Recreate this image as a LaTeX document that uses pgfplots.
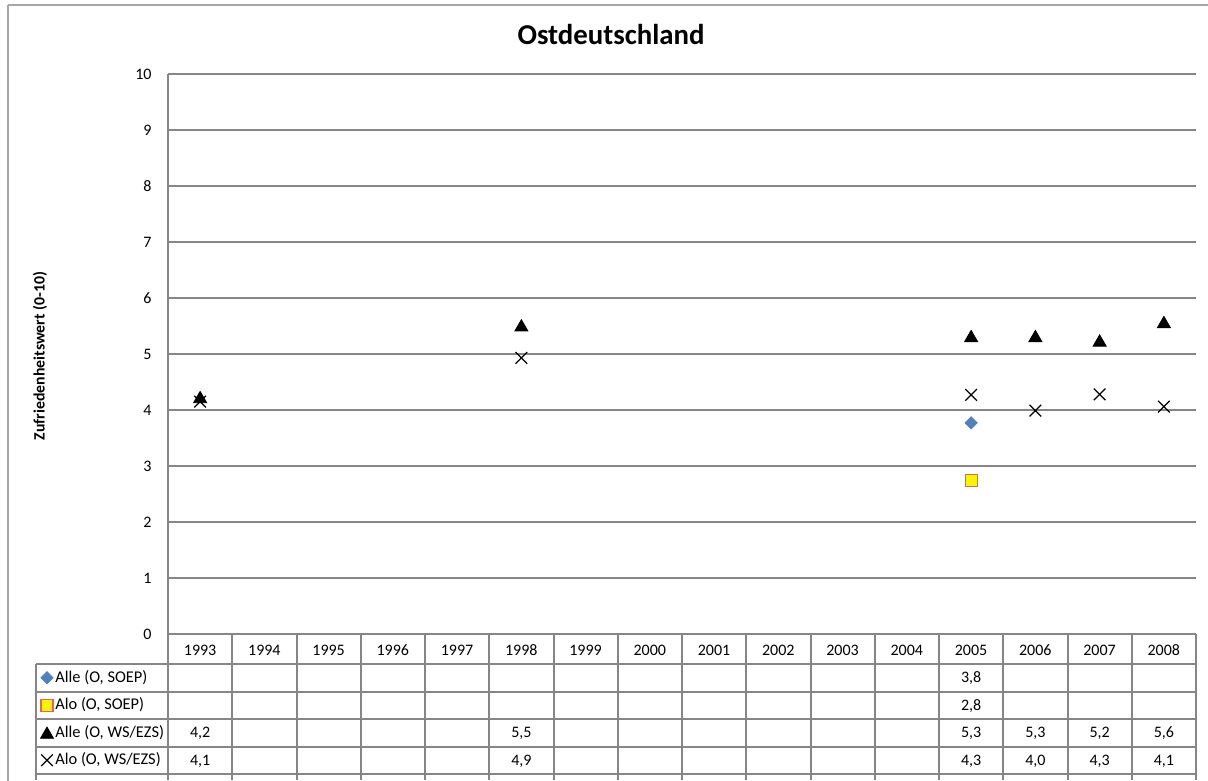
\documentclass[border=0pt]{standalone}
\usepackage{fontspec}
\setmainfont{Carlito}
\usepackage{pgfplots}
\pgfplotsset{compat=1.18}

\definecolor{excelblue}{HTML}{4F81BD}
\definecolor{gridgray}{HTML}{868686}
\definecolor{framegray}{HTML}{A6A6A6}
\definecolor{sqborder}{HTML}{D9695F}

% 1 px of the reference = 0.5pt
\newcommand{\tabfont}{\fontsize{8pt}{9pt}\selectfont}
\pgfplotsset{mklegend/.style={legend image code/.code={%
  \draw[##1] plot coordinates {(3.3pt,0pt)}; \path (0,0) (7.3pt,0);}}}

\begin{document}
\begin{tikzpicture}[tabval/.style={anchor=base, font=\tabfont, inner sep=0pt}]
\begin{scope}[x=0.5pt,y=0.5pt]
\useasboundingbox (0,0) rectangle (1208,775);
% chart frame
\draw[framegray, line width=1pt] (8,770) -- (1240,770) (8,770) -- (8,-20);
% title and y label
\node[anchor=base, font=\fontsize{14.4pt}{16pt}\selectfont\bfseries] at (611,730) {Ostdeutschland};
\node[rotate=90, font=\fontsize{7.9pt}{9pt}\selectfont\bfseries] at (40,419) {Zufriedenheitswert (0-10)};
\end{scope}

\begin{axis}[
  at={(84pt,70.5pt)}, anchor=south west,
  scale only axis,
  width=514pt, height=280pt,
  xmin=1992.5, xmax=2008.5,
  ymin=0, ymax=10,
  xtick={1993,...,2008},
  ytick={0,...,10},
  major tick length=0pt,
  axis lines*=left,
  axis line style={gridgray, line width=1pt, -},
  ymajorgrids,
  grid style={gridgray, line width=0.8pt},
  clip=false,
  tick label style={font=\tabfont},
  /pgf/number format/assume math mode=true,
  xticklabel={\pgfmathprintnumber[1000 sep={}]{\tick}},
  xticklabel style={anchor=base, inner sep=0pt, yshift=-11pt},
  yticklabel style={anchor=east, inner sep=0pt, xshift=-8pt},
  legend style={at={(axis cs:1990.508,-0.536)}, anchor=north west,
    draw=none, fill=none, inner sep=0pt, outer sep=0pt,
    row sep=0pt, column sep=0pt,
    font=\fontsize{8.2pt}{9pt}\selectfont,
    nodes={inner sep=0pt, minimum height=13.75pt, anchor=west}},
  legend cell align=left,
]
\addplot[only marks, mark=square*, mark size=2.17pt, mark options={rotate=45, fill=excelblue, draw=excelblue}, mklegend]
  coordinates {(2005,3.77)};
\addlegendentry{Alle (O, SOEP)}
\addplot[only marks, mark=square*, mark size=3pt, mark options={fill=yellow, draw=sqborder, line width=0.6pt}, mklegend]
  coordinates {(2005,2.74)};
\addlegendentry{Alo (O, SOEP)}
\addplot[only marks, mark=triangle*, mark size=3.75pt, mark options={fill=black, draw=black, yshift=-0.9pt}, mklegend]
  coordinates {(1993,4.23) (1998,5.51) (2005,5.32) (2006,5.32) (2007,5.24) (2008,5.57)};
\addlegendentry{Alle (O, WS/EZS)}
\addplot[only marks, mark=x, mark size=4.1pt, mark options={draw=black, line width=0.6pt}, mklegend]
  coordinates {(1993,4.15) (1998,4.93) (2005,4.27) (2006,3.99) (2007,4.28) (2008,4.06)};
\addlegendentry{Alo (O, WS/EZS)}

% data table grid
\draw[gridgray, line width=1pt]
  (axis cs:1990.446,-0.536) -- (axis cs:2008.5,-0.536)
  (axis cs:1990.446,-1.036) -- (axis cs:2008.5,-1.036)
  (axis cs:1990.446,-1.518) -- (axis cs:2008.5,-1.518)
  (axis cs:1990.446,-2.018) -- (axis cs:2008.5,-2.018)
  (axis cs:1990.446,-2.5) -- (axis cs:2008.5,-2.5)
  (axis cs:1990.446,-0.536) -- (axis cs:1990.446,-2.6)
  (axis cs:1992.5,0) -- (axis cs:1992.5,-2.6)
  (axis cs:1993.5,0) -- (axis cs:1993.5,-2.6)
  (axis cs:1994.5,0) -- (axis cs:1994.5,-2.6)
  (axis cs:1995.5,0) -- (axis cs:1995.5,-2.6)
  (axis cs:1996.5,0) -- (axis cs:1996.5,-2.6)
  (axis cs:1997.5,0) -- (axis cs:1997.5,-2.6)
  (axis cs:1998.5,0) -- (axis cs:1998.5,-2.6)
  (axis cs:1999.5,0) -- (axis cs:1999.5,-2.6)
  (axis cs:2000.5,0) -- (axis cs:2000.5,-2.6)
  (axis cs:2001.5,0) -- (axis cs:2001.5,-2.6)
  (axis cs:2002.5,0) -- (axis cs:2002.5,-2.6)
  (axis cs:2003.5,0) -- (axis cs:2003.5,-2.6)
  (axis cs:2004.5,0) -- (axis cs:2004.5,-2.6)
  (axis cs:2005.5,0) -- (axis cs:2005.5,-2.6)
  (axis cs:2006.5,0) -- (axis cs:2006.5,-2.6)
  (axis cs:2007.5,0) -- (axis cs:2007.5,-2.6)
  (axis cs:2008.5,0) -- (axis cs:2008.5,-2.6);
% data table values
\node[tabval] at (axis cs:2005,-0.875) {3,8};
\node[tabval] at (axis cs:2005,-1.366) {2,8};
\node[tabval] at (axis cs:1993,-1.857) {4,2};
\node[tabval] at (axis cs:1998,-1.857) {5,5};
\node[tabval] at (axis cs:2005,-1.857) {5,3};
\node[tabval] at (axis cs:2006,-1.857) {5,3};
\node[tabval] at (axis cs:2007,-1.857) {5,2};
\node[tabval] at (axis cs:2008,-1.857) {5,6};
\node[tabval] at (axis cs:1993,-2.348) {4,1};
\node[tabval] at (axis cs:1998,-2.348) {4,9};
\node[tabval] at (axis cs:2005,-2.348) {4,3};
\node[tabval] at (axis cs:2006,-2.348) {4,0};
\node[tabval] at (axis cs:2007,-2.348) {4,3};
\node[tabval] at (axis cs:2008,-2.348) {4,1};
\end{axis}
\end{tikzpicture}
\end{document}
